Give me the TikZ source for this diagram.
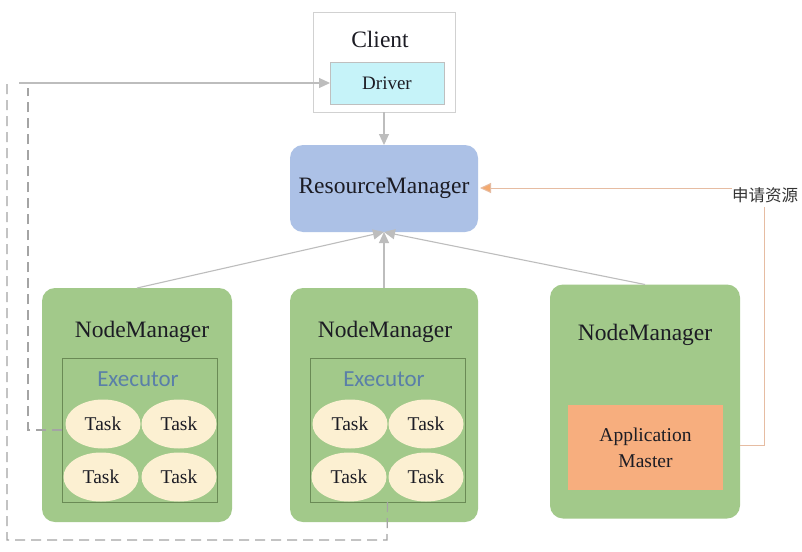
\documentclass[tikz,border=0pt]{standalone}
\usepackage{fontspec}
\setmainfont{Liberation Serif}
\newfontfamily\calib{Carlito}
\newfontfamily\cjk{Noto Sans CJK SC}
\usetikzlibrary{arrows.meta,shapes.geometric}
\definecolor{nmgreen}{HTML}{A2C98A}
\definecolor{rmblue}{HTML}{ACC1E6}
\definecolor{drvcyan}{HTML}{C6F3F9}
\definecolor{taskcream}{HTML}{FCF0D2}
\definecolor{amorange}{HTML}{F7AE7E}
\definecolor{arrgrey}{HTML}{BDBDBD}
\definecolor{dashgrey}{HTML}{A4A4A4}
\definecolor{exborder}{HTML}{6A8A55}
\definecolor{exblue}{HTML}{5A7FA8}
\definecolor{reqline}{HTML}{E6BCA2}
\definecolor{reqtip}{HTML}{F4A96E}
\definecolor{txt}{HTML}{1C1C24}
\tikzset{
  box/.style={draw=none, inner sep=0pt, outer sep=0pt},
  clientbox/.style={box, draw=black!18, line width=0.8pt, fill=white, minimum width=142pt, minimum height=100pt},
  driverbox/.style={box, draw=black!25, line width=0.6pt, fill=drvcyan, minimum width=114pt, minimum height=42pt, font=\fontsize{19}{22}\selectfont, text=txt},
  rmbox/.style={box, fill=rmblue, rounded corners=13pt, minimum width=188pt, minimum height=87pt, font=\fontsize{23.5}{27}\selectfont, text=txt},
  nmbox/.style={box, fill=nmgreen, rounded corners=13pt, minimum width=190pt, minimum height=234pt},
  nmtitle/.style={font=\fontsize{23.5}{27}\selectfont, text=txt},
  exbox/.style={box, draw=exborder, line width=0.8pt, minimum width=155pt, minimum height=144pt},
  extitle/.style={font=\calib\fontsize{23}{26}\selectfont, text=exblue},
  taskell/.style={ellipse, fill=taskcream, inner sep=0pt, minimum width=75pt, minimum height=49pt, font=\fontsize{19.5}{22}\selectfont, text=txt},
  ambox/.style={box, fill=amorange, minimum width=155pt, minimum height=85pt, align=center, font=\fontsize{19.5}{26}\selectfont, text=txt},
  garrow/.style={draw=arrgrey, line width=1.1pt, -{Triangle[length=11pt,width=10pt]}},
  dashline/.style={draw=dashgrey, line width=1.2pt, dash pattern=on 10pt off 6pt},
}
\begin{document}
\begin{tikzpicture}[x=1pt,y=-1pt]
\useasboundingbox (0,0) rectangle (802,551);
\fill[white] (0,0) rectangle (802,551);

% Client + Driver
\node[clientbox] (client) at (384,62) {};
\node[nmtitle] (clienttxt) at (380,39) {Client};
\node[driverbox] (driver) at (387,83) {Driver};

% ResourceManager
\node[rmbox] (rm) at (384,188.5) {ResourceManager};

% NodeManagers
\node[nmbox] (nm1) at (137,405) {};
\node[nmbox, minimum width=188pt] (nm2) at (384,405) {};
\node[nmbox] (nm3) at (645,401.5) {};
\node[nmtitle] (nm1t) at (142,332) {NodeManager};
\node[nmtitle] (nm2t) at (385,332) {NodeManager};
\node[nmtitle] (nm3t) at (645,335) {NodeManager};

% Executors
\node[exbox] (ex1) at (139.5,430) {};
\node[exbox] (ex2) at (387.5,430) {};
\node[extitle] (ex1t) at (138,379) {Executor};
\node[extitle] (ex2t) at (384,379) {Executor};

% Tasks
\node[taskell] (t11) at (103,424) {Task};
\node[taskell] (t12) at (179,424) {Task};
\node[taskell] (t13) at (101,477) {Task};
\node[taskell] (t14) at (179,477) {Task};
\node[taskell] (t21) at (350,424) {Task};
\node[taskell] (t22) at (426,424) {Task};
\node[taskell] (t23) at (349,477) {Task};
\node[taskell] (t24) at (426,477) {Task};

% Application Master
\node[ambox] (am) at (645.5,447.5) {Application\\Master};

% request label
\node[font=\cjk\fontsize{16.5}{19}\selectfont, text=black!80, inner sep=0pt] (req) at (765,195) {申请资源};

% connectors
\draw[garrow] (client.south) -- (rm.north);
\draw[garrow] (nm1.north) -- (rm.south);
\draw[garrow] (nm2.north) -- (rm.south);
\draw[garrow] (nm3.north) -- (rm.south);

\coordinate (reqbot) at (764,207);
\coordinate (reqcorner) at (764,445);
\draw[draw=reqline, line width=0.9pt] (nm3.east |- reqcorner) -- (reqcorner) -- (reqbot);
\draw[draw=reqline, line width=1pt, -{Triangle[length=11pt,width=10pt,fill=reqtip]}] (req.west |- 0,188) -- ([xshift=2pt]rm.east |- 0,188);

% dashed returns to driver
\coordinate (o1) at (387,540);
\coordinate (o2) at (7,540);
\coordinate (o3) at (7,83);
\draw[dashline] (ex2.south) -- (o1) -- (o2) -- (o3);
\coordinate (i1) at (28,430);
\coordinate (i2) at (28,88);
\draw[dashline] (ex1.west) -- (i1) -- (i2);
\coordinate (s0) at (19,83);
\draw[garrow] (s0) -- (driver.west);
\end{tikzpicture}
\end{document}
